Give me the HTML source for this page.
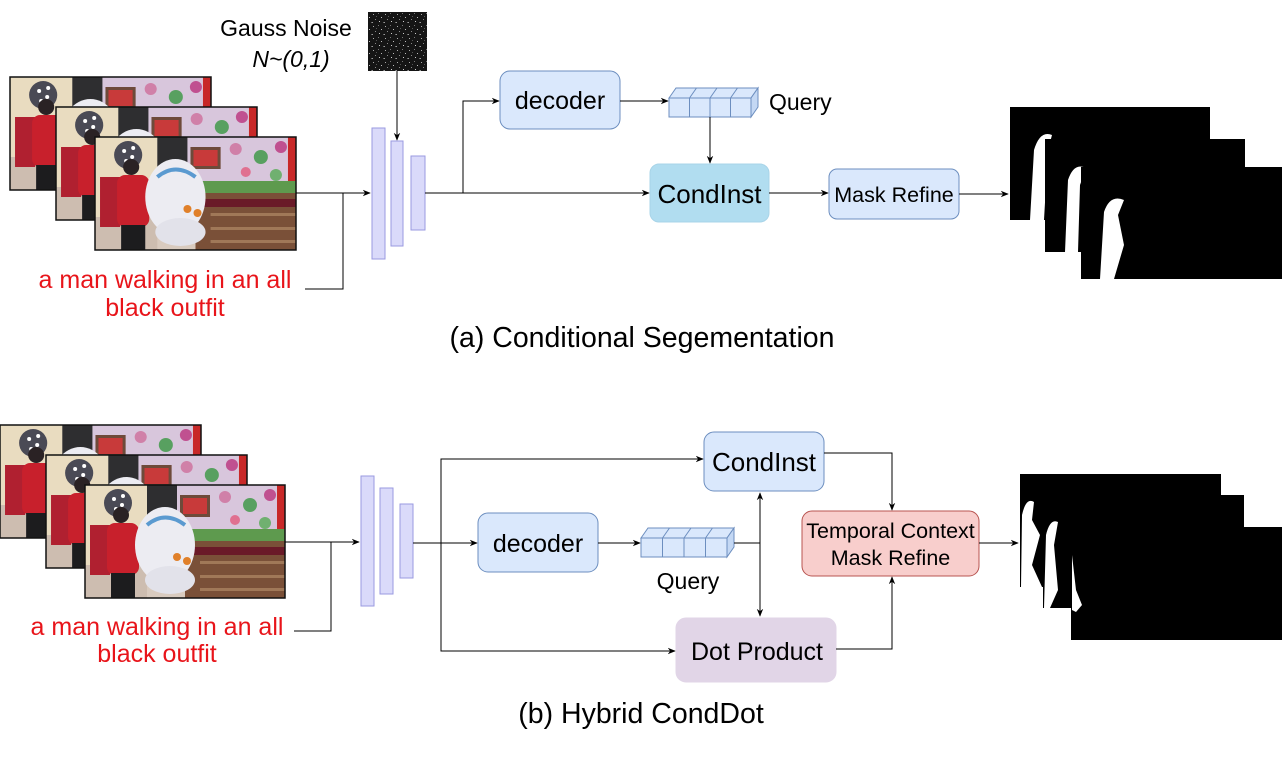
<!DOCTYPE html>
<html><head><meta charset="utf-8"><style>
html,body{margin:0;padding:0;background:#fff;}
svg{display:block;}
text{font-family:"Liberation Sans",sans-serif;}
</style></head><body>
<svg width="1282" height="757" viewBox="0 0 1282 757" xmlns="http://www.w3.org/2000/svg">
<defs>
<marker id="ar" viewBox="0 0 10 10" refX="9" refY="5" markerWidth="8" markerHeight="8" orient="auto-start-reverse" markerUnits="userSpaceOnUse">
<path d="M0,1 L10,5 L0,9 L3,5 z" fill="#000"/></marker>
<pattern id="noise" width="12" height="12" patternUnits="userSpaceOnUse">
<rect width="12" height="12" fill="#151515"/>
<rect x="1" y="2" width="1" height="1" fill="#aaa"/><rect x="6" y="1" width="1" height="1" fill="#777"/><rect x="9" y="5" width="1" height="1" fill="#bbb"/><rect x="3" y="7" width="1" height="1" fill="#888"/><rect x="7" y="9" width="1" height="1" fill="#ccc"/><rect x="11" y="10" width="1" height="1" fill="#666"/><rect x="4" y="4" width="1" height="1" fill="#555"/><rect x="0" y="10" width="1" height="1" fill="#999"/>
</pattern>
<symbol id="photo" viewBox="0 0 200 113" preserveAspectRatio="none">
<rect x="0" y="0" width="200" height="113" fill="#d9cbbf"/>
<rect x="0" y="0" width="62" height="80" fill="#e9dcc0"/>
<circle cx="33" cy="18" r="14" fill="#4a4a55"/>
<circle cx="29" cy="14" r="2" fill="#fff"/><circle cx="37" cy="20" r="2" fill="#fff"/><circle cx="31" cy="24" r="2" fill="#fff"/><circle cx="38" cy="11" r="2" fill="#fff"/>
<rect x="62" y="0" width="30" height="70" fill="#2e2e30"/>
<rect x="92" y="0" width="108" height="55" fill="#d8c6dc"/>
<rect x="95" y="10" width="30" height="22" fill="#6e4a3a"/><rect x="98" y="13" width="24" height="16" fill="#c83a3a"/>
<circle cx="140" cy="12" r="6" fill="#d080a8"/><circle cx="165" cy="20" r="7" fill="#58a060"/><circle cx="185" cy="10" r="6" fill="#c05090"/><circle cx="150" cy="35" r="5" fill="#e07090"/><circle cx="180" cy="38" r="6" fill="#70b070"/>
<rect x="192" y="0" width="8" height="45" fill="#c82828"/>
<rect x="100" y="44" width="100" height="12" fill="#5e9a4e"/>
<rect x="100" y="56" width="100" height="57" fill="#7a5038"/>
<rect x="100" y="62" width="100" height="8" fill="#6a1a28"/>
<rect x="115" y="76" width="85" height="3" fill="#a07858"/><rect x="115" y="90" width="85" height="3" fill="#a07858"/><rect x="115" y="103" width="85" height="3" fill="#a07858"/>
<rect x="0" y="80" width="62" height="33" fill="#cdbdb0"/>
<rect x="5" y="40" width="20" height="50" fill="#b02030"/>
<rect x="22" y="38" width="32" height="52" fill="#c8202c" rx="8"/>
<circle cx="36" cy="30" r="8" fill="#2a2224"/>
<rect x="26" y="88" width="24" height="25" fill="#1c1c1e"/>
<ellipse cx="80" cy="60" rx="30" ry="38" fill="#ececf2"/>
<ellipse cx="85" cy="95" rx="25" ry="14" fill="#e2e2ea"/>
<path d="M62,40 Q80,25 100,40" stroke="#5a9ad0" stroke-width="4" fill="none"/>
<circle cx="92" cy="72" r="4" fill="#e0802a"/><circle cx="102" cy="76" r="4" fill="#e0802a"/>
</symbol>
</defs>

<!-- (a) -->
<use href="#photo" x="10" y="77" width="201" height="113"/>
<rect x="10" y="77" width="201" height="113" fill="none" stroke="#111" stroke-width="1.5"/>
<use href="#photo" x="56" y="107" width="201" height="113"/>
<rect x="56" y="107" width="201" height="113" fill="none" stroke="#111" stroke-width="1.5"/>
<use href="#photo" x="95" y="137" width="201" height="113"/>
<rect x="95" y="137" width="201" height="113" fill="none" stroke="#111" stroke-width="1.5"/>

<text x="286" y="36" font-size="23" text-anchor="middle">Gauss Noise</text>
<text x="291" y="67" font-size="23" font-style="italic" text-anchor="middle">N~(0,1)</text>
<rect x="368" y="12" width="59" height="59" fill="url(#noise)"/>
<line x1="397" y1="71" x2="397" y2="140" stroke="#000" marker-end="url(#ar)"/>

<line x1="296" y1="193" x2="370" y2="193" stroke="#000" marker-end="url(#ar)"/>
<polyline points="305,289 343,289 343,193" fill="none" stroke="#000"/>
<text x="165" y="288" font-size="25" fill="#e8141a" text-anchor="middle">a man walking in an all</text>
<text x="165" y="316" font-size="25" fill="#e8141a" text-anchor="middle">black outfit</text>

<rect x="372" y="128" width="13" height="131" fill="#dadafa" stroke="#9a9ae0"/>
<rect x="391" y="141" width="12" height="105" fill="#dadafa" stroke="#9a9ae0"/>
<rect x="411" y="156" width="14" height="74" fill="#dadafa" stroke="#9a9ae0"/>

<line x1="425" y1="193" x2="649" y2="193" stroke="#000" marker-end="url(#ar)"/>
<polyline points="463,193 463,101 499,101" fill="none" stroke="#000" marker-end="url(#ar)"/>
<rect x="500" y="71" width="120" height="58" rx="10" fill="#dae8fc" stroke="#6c8ebf"/>
<text x="560" y="109" font-size="25" text-anchor="middle">decoder</text>
<line x1="620" y1="101" x2="668" y2="101" stroke="#000" marker-end="url(#ar)"/>
<g stroke="#6c8ebf" fill="#dae8fc">
<path d="M669,98 L676,88 L758,88 L751,98 z"/>
<path d="M751,98 L758,88 L758,107 L751,117 z" fill="#c4d8f4"/>
<rect x="669" y="98" width="82" height="19"/>
<line x1="689.5" y1="98" x2="689.5" y2="117"/><line x1="710" y1="98" x2="710" y2="117"/><line x1="730.5" y1="98" x2="730.5" y2="117"/>
<line x1="689.5" y1="98" x2="696.5" y2="88"/><line x1="710" y1="98" x2="717" y2="88"/><line x1="730.5" y1="98" x2="737.5" y2="88"/>
</g>
<text x="769" y="110" font-size="23">Query</text>
<line x1="710" y1="117" x2="710" y2="163" stroke="#000" marker-end="url(#ar)"/>
<rect x="650" y="164" width="119" height="58" rx="9" fill="#b1ddf0" stroke="#a8d4e8"/>
<text x="709.5" y="203" font-size="26" text-anchor="middle">CondInst</text>
<line x1="769" y1="193" x2="828" y2="193" stroke="#000" marker-end="url(#ar)"/>
<rect x="829" y="169" width="130" height="50" rx="8" fill="#dae8fc" stroke="#6c8ebf"/>
<text x="894" y="202" font-size="21.5" text-anchor="middle">Mask Refine</text>
<line x1="959" y1="194" x2="1008" y2="194" stroke="#000" marker-end="url(#ar)"/>

<rect x="1010" y="107" width="200" height="113" fill="#000"/>
<path d="M1030,220 L1034,150 Q1040,130 1052,135 L1048,150 L1044,220 z" fill="#fff"/>
<rect x="1045" y="139" width="200" height="113" fill="#000"/>
<path d="M1065,252 L1068,180 Q1074,162 1086,168 L1080,185 L1078,252 z" fill="#fff"/>
<rect x="1081" y="167" width="201" height="112" fill="#000"/>
<path d="M1100,279 L1104,212 Q1110,194 1124,200 L1118,215 L1124,245 L1114,279 z" fill="#fff"/>

<text x="642" y="347" font-size="28.5" text-anchor="middle">(a) Conditional Segementation</text>

<!-- (b) -->
<use href="#photo" x="0" y="425" width="201" height="113"/>
<rect x="0" y="425" width="201" height="113" fill="none" stroke="#111" stroke-width="1.5"/>
<use href="#photo" x="46" y="455" width="201" height="113"/>
<rect x="46" y="455" width="201" height="113" fill="none" stroke="#111" stroke-width="1.5"/>
<use href="#photo" x="85" y="485" width="200" height="113"/>
<rect x="85" y="485" width="200" height="113" fill="none" stroke="#111" stroke-width="1.5"/>

<line x1="285" y1="542" x2="359" y2="542" stroke="#000" marker-end="url(#ar)"/>
<polyline points="294,631 331,631 331,542" fill="none" stroke="#000"/>
<text x="157" y="635" font-size="25" fill="#e8141a" text-anchor="middle">a man walking in an all</text>
<text x="157" y="662" font-size="25" fill="#e8141a" text-anchor="middle">black outfit</text>

<rect x="361" y="476" width="13" height="130" fill="#dadafa" stroke="#9a9ae0"/>
<rect x="380" y="488" width="13" height="106" fill="#dadafa" stroke="#9a9ae0"/>
<rect x="400" y="504" width="13" height="74" fill="#dadafa" stroke="#9a9ae0"/>

<line x1="413" y1="543" x2="477" y2="543" stroke="#000" marker-end="url(#ar)"/>
<polyline points="441,543 441,459 703,459" fill="none" stroke="#000" marker-end="url(#ar)"/>
<polyline points="441,543 441,651 675,651" fill="none" stroke="#000" marker-end="url(#ar)"/>
<rect x="478" y="513" width="120" height="59" rx="10" fill="#dae8fc" stroke="#6c8ebf"/>
<text x="538" y="552" font-size="25" text-anchor="middle">decoder</text>
<line x1="598" y1="543" x2="640" y2="543" stroke="#000" marker-end="url(#ar)"/>
<g stroke="#6c8ebf" fill="#dae8fc">
<path d="M641,538 L648,528 L734,528 L727,538 z"/>
<path d="M727,538 L734,528 L734,547 L727,557 z" fill="#c4d8f4"/>
<rect x="641" y="538" width="86" height="19"/>
<line x1="662.5" y1="538" x2="662.5" y2="557"/><line x1="684" y1="538" x2="684" y2="557"/><line x1="705.5" y1="538" x2="705.5" y2="557"/>
<line x1="662.5" y1="538" x2="669.5" y2="528"/><line x1="684" y1="538" x2="691" y2="528"/><line x1="705.5" y1="538" x2="712.5" y2="528"/>
</g>
<text x="688" y="589" font-size="23" text-anchor="middle">Query</text>
<line x1="734" y1="543" x2="760" y2="543" stroke="#000"/>
<line x1="760" y1="493" x2="760" y2="616" stroke="#000" marker-start="url(#ar)" marker-end="url(#ar)"/>

<rect x="704" y="432" width="120" height="59" rx="10" fill="#dae8fc" stroke="#6c8ebf"/>
<text x="764" y="471" font-size="26" text-anchor="middle">CondInst</text>
<polyline points="824,453 892,453 892,510" fill="none" stroke="#000" marker-end="url(#ar)"/>
<rect x="802" y="511" width="177" height="65" rx="10" fill="#f8cecc" stroke="#b85450"/>
<text x="890.5" y="538" font-size="21.5" text-anchor="middle">Temporal Context</text>
<text x="890.5" y="565" font-size="21.5" text-anchor="middle">Mask Refine</text>
<rect x="676" y="618" width="160" height="64" rx="10" fill="#e1d5e7" stroke="#e1d5e7"/>
<text x="757" y="660" font-size="25" text-anchor="middle">Dot Product</text>
<polyline points="836,649 892,649 892,577" fill="none" stroke="#000" marker-end="url(#ar)"/>
<line x1="979" y1="543" x2="1018" y2="543" stroke="#000" marker-end="url(#ar)"/>

<rect x="1020" y="474" width="201" height="113" fill="#000"/>
<path d="M1021,587 L1022,515 Q1026,497 1034,502 L1032,520 L1040,535 L1032,565 L1042,587 z" fill="#fff"/>
<rect x="1043" y="495" width="201" height="113" fill="#000"/>
<path d="M1044,608 L1046,535 Q1050,518 1058,522 L1054,545 L1058,590 L1050,608 z" fill="#fff"/>
<rect x="1071" y="527" width="211" height="113" fill="#000"/>
<path d="M1072,610 L1072,555 L1076,590 L1082,605 L1076,612 z" fill="#fff"/>

<text x="641" y="723" font-size="28.5" text-anchor="middle">(b) Hybrid CondDot</text>
</svg>
</body></html>
